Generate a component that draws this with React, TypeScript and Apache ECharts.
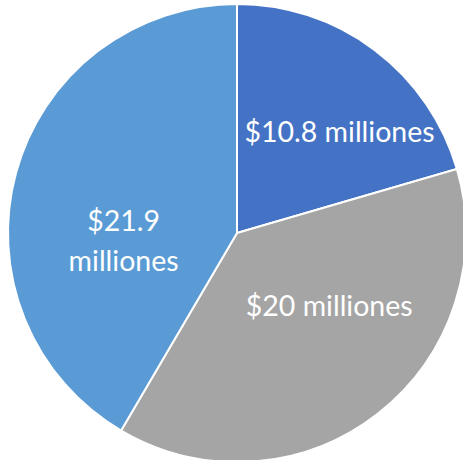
import React, { useEffect, useRef } from "react";
import * as echarts from "echarts";

const categories = ["A", "B", "C"];
const values = [10.8, 20, 21.9];
const labels = ["$10.8 milliones", "$20 milliones", "$21.9\nmilliones"];
const colors = ["#4472C4", "#A5A5A5", "#5B9BD5"];
const labelOffsets = [
  [32, -8],
  [20, -21],
  [0, 38],
];

export default function App() {
  const ref = useRef<HTMLDivElement>(null);
  useEffect(() => {
    if (!ref.current) return;
    const chart = echarts.init(ref.current, undefined, { renderer: "svg" });
    chart.setOption({
      animation: false,
      series: [
        {
          type: "pie",
          center: [237, 233],
          radius: 229,
          startAngle: 90,
          clockwise: true,
          avoidLabelOverlap: false,
          itemStyle: { borderColor: "#ffffff", borderWidth: 2 },
          label: {
            show: true,
            position: "inside",
            color: "#ffffff",
            fontFamily: "Lato",
            fontSize: 28.5,
            lineHeight: 40,
            formatter: (p: any) => labels[p.dataIndex],
          },
          labelLine: { show: false },
          labelLayout: (p: any) => ({
            dx: labelOffsets[p.dataIndex][0],
            dy: labelOffsets[p.dataIndex][1],
          }),
          data: categories.map((c, i) => ({
            name: c,
            value: values[i],
            itemStyle: { color: colors[i] },
          })),
        },
      ],
    });
    return () => chart.dispose();
  }, []);
  return (
    <div
      ref={ref}
      style={{ position: "absolute", left: 0, top: 0, width: 463, height: 460 }}
    />
  );
}
